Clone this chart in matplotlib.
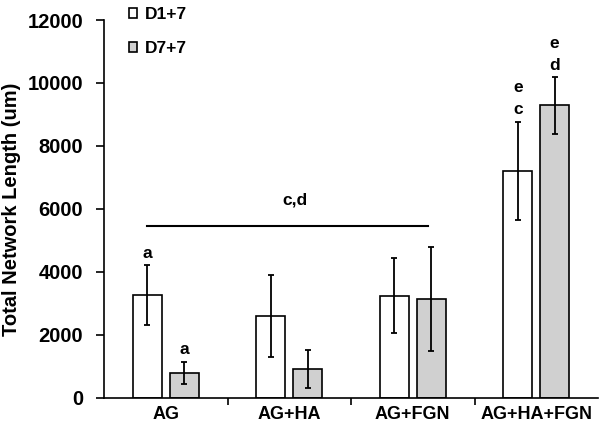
import matplotlib
matplotlib.use("Agg")
import matplotlib.pyplot as plt
import numpy as np

plt.rcParams['font.family'] = ['Liberation Sans', 'DejaVu Sans']
plt.rcParams['font.weight'] = 'bold'

categories = ["AG", "AG+HA", "AG+FGN", "AG+HA+FGN"]
d1_vals = [3260, 2590, 3240, 7200]
d1_err = [960, 1310, 1200, 1570]
d7_vals = [785, 910, 3130, 9290]
d7_err = [365, 600, 1660, 900]
series_names = ["D1+7", "D7+7"]
d1_labels = ["a", "", "", "e\nc"]
d7_labels = ["a", "", "", "e\nd"]
yticks = [0, 2000, 4000, 6000, 8000, 10000, 12000]

fig = plt.figure(figsize=(6, 4.28), dpi=100)
ax = fig.add_axes([104/600, 1-397.7/428, 494/600, 377.7/428])

x = np.arange(len(categories))
w = 0.234
off = 0.149
ekw = dict(elinewidth=1.3, capsize=2.3, capthick=1.3, ecolor='black')
b1 = ax.bar(x - off, d1_vals, w, color='white', edgecolor='black', linewidth=1.2,
            yerr=d1_err, error_kw=ekw, label=series_names[0])
b2 = ax.bar(x + off, d7_vals, w, color='#d0d0d0', edgecolor='black', linewidth=1.2,
            yerr=d7_err, error_kw=ekw, label=series_names[1])

for i in range(len(categories)):
    if d1_labels[i]:
        ax.annotate(d1_labels[i], (x[i] - off, d1_vals[i] + d1_err[i]), xytext=(0, 3),
                    textcoords='offset points', ha='center', va='bottom',
                    fontsize=12.5, fontweight='bold', linespacing=1.6)
    if d7_labels[i]:
        ax.annotate(d7_labels[i], (x[i] + off, d7_vals[i] + d7_err[i]), xytext=(0, 3),
                    textcoords='offset points', ha='center', va='bottom',
                    fontsize=12.5, fontweight='bold', linespacing=1.6)

# significance bracket
ax.plot([x[0] - 0.15, x[2] + 0.12], [5450, 5450], color='black', lw=1.5)
ax.text(1.05, 6150, "c,d", ha='center', va='baseline', fontsize=12.5, fontweight='bold')

ax.set_xlim(-0.5, 3.5)
ax.set_ylim(0, 12000)
ax.set_yticks(yticks)
ax.set_yticklabels([str(t) for t in yticks], fontsize=14.5, fontweight='bold')
ax.set_xticks(x)
ax.set_xticklabels(categories, fontsize=13, fontweight='bold')
ax.tick_params(axis='x', length=0, pad=6)
ax.set_xticks([0.5, 1.5, 2.5], minor=True)
ax.tick_params(axis='x', which='minor', length=5, width=1.2, direction='out')
ax.tick_params(axis='y', length=6, width=1.2, direction='out', pad=9)
ax.spines['top'].set_visible(False)
ax.spines['right'].set_visible(False)
ax.spines['left'].set_linewidth(1.2)
ax.spines['bottom'].set_linewidth(1.2)
ax.set_ylabel("Total Network Length (um)", fontsize=14.5, fontweight='bold')
ax.yaxis.set_label_coords(-0.168, 0.5)

leg = ax.legend(loc='upper left', bbox_to_anchor=(0.018, 1.075), frameon=False,
                prop={'size': 12.5, 'weight': 'bold'}, handlelength=0.5, handleheight=0.5,
                handletextpad=0.45, labelspacing=1.1)

fig.savefig("out.png", dpi=100)
